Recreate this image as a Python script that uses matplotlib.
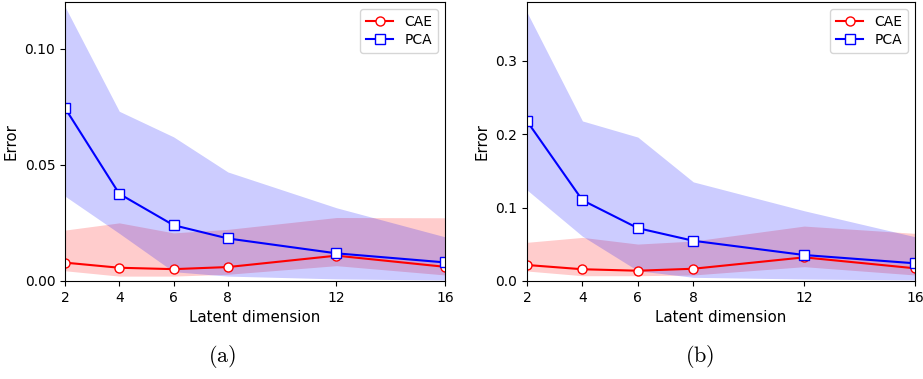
import numpy as np
import matplotlib
matplotlib.use('Agg')
import matplotlib.pyplot as plt

plt.rcParams['mathtext.fontset'] = 'cm'

# latent dimensions tried
dims = [2, 4, 6, 8, 12, 16]

# dataset (a): mean error and band limits
cae_a = [0.0079, 0.0057, 0.0051, 0.0060, 0.0109, 0.0061]
cae_a_lo = [0.0044, 0.0021, 0.0021, 0.0029, 0.0066, 0.0026]
cae_a_hi = [0.0219, 0.0250, 0.0207, 0.0222, 0.0273, 0.0272]
pca_a = [0.0744, 0.0375, 0.0240, 0.0183, 0.0119, 0.0080]
pca_a_lo = [0.0365, 0.0205, 0.0040, 0.0021, 0.0009, 0.0004]
pca_a_hi = [0.1180, 0.0730, 0.0620, 0.0469, 0.0315, 0.0190]

# dataset (b)
cae_b = [0.0218, 0.0160, 0.0140, 0.0167, 0.0322, 0.0173]
cae_b_lo = [0.0136, 0.0072, 0.0072, 0.0082, 0.0195, 0.0082]
cae_b_hi = [0.0527, 0.0594, 0.0503, 0.0544, 0.0748, 0.0649]
pca_b = [0.2177, 0.1100, 0.0720, 0.0548, 0.0354, 0.0241]
pca_b_lo = [0.1240, 0.0610, 0.0140, 0.0050, 0.0027, 0.0014]
pca_b_hi = [0.3660, 0.2180, 0.1960, 0.1350, 0.0957, 0.0603]


def panel(ax, cae, cae_lo, cae_hi, pca, pca_lo, pca_hi, ymax, yticks, fmt):
    ax.fill_between(dims, cae_lo, cae_hi, color='red', alpha=0.2, linewidth=0)
    ax.fill_between(dims, pca_lo, pca_hi, color='blue', alpha=0.2, linewidth=0)
    ax.plot(dims, cae, color='red', marker='o', markersize=6.5, markerfacecolor='white',
            markeredgewidth=1.0, linewidth=1.5, label='CAE')
    ax.plot(dims, pca, color='blue', marker='s', markersize=6.5, markerfacecolor='white',
            markeredgewidth=1.0, linewidth=1.5, label='PCA')
    ax.set_xlim(2, 16)
    ax.set_ylim(0, ymax)
    ax.set_xticks(dims)
    ax.set_yticks(yticks)
    ax.set_yticklabels([fmt % t for t in yticks])
    ax.tick_params(labelsize=10)
    ax.set_xlabel('Latent dimension', fontsize=10.8)
    ax.set_ylabel('Error', fontsize=10.8)
    ax.legend(loc='upper right', fontsize=10, labelspacing=0.35)


fig = plt.figure(figsize=(9.23, 3.79), dpi=100)
ax1 = fig.add_axes([65 / 923, 1 - 281 / 379, 380 / 923, 279 / 379])
ax2 = fig.add_axes([527 / 923, 1 - 281 / 379, 388 / 923, 279 / 379])

panel(ax1, cae_a, cae_a_lo, cae_a_hi, pca_a, pca_a_lo, pca_a_hi, 0.12,
      [0.0, 0.05, 0.10], '%.2f')
panel(ax2, cae_b, cae_b_lo, cae_b_hi, pca_b, pca_b_lo, pca_b_hi, 0.38,
      [0.0, 0.1, 0.2, 0.3], '%.1f')

fig.text(222 / 923, 1 - 357 / 379, r'$\mathrm{(a)}$', fontsize=16, ha='center', va='center')
fig.text(700 / 923, 1 - 357 / 379, r'$\mathrm{(b)}$', fontsize=16, ha='center', va='center')

fig.savefig('out.png', dpi=100)
